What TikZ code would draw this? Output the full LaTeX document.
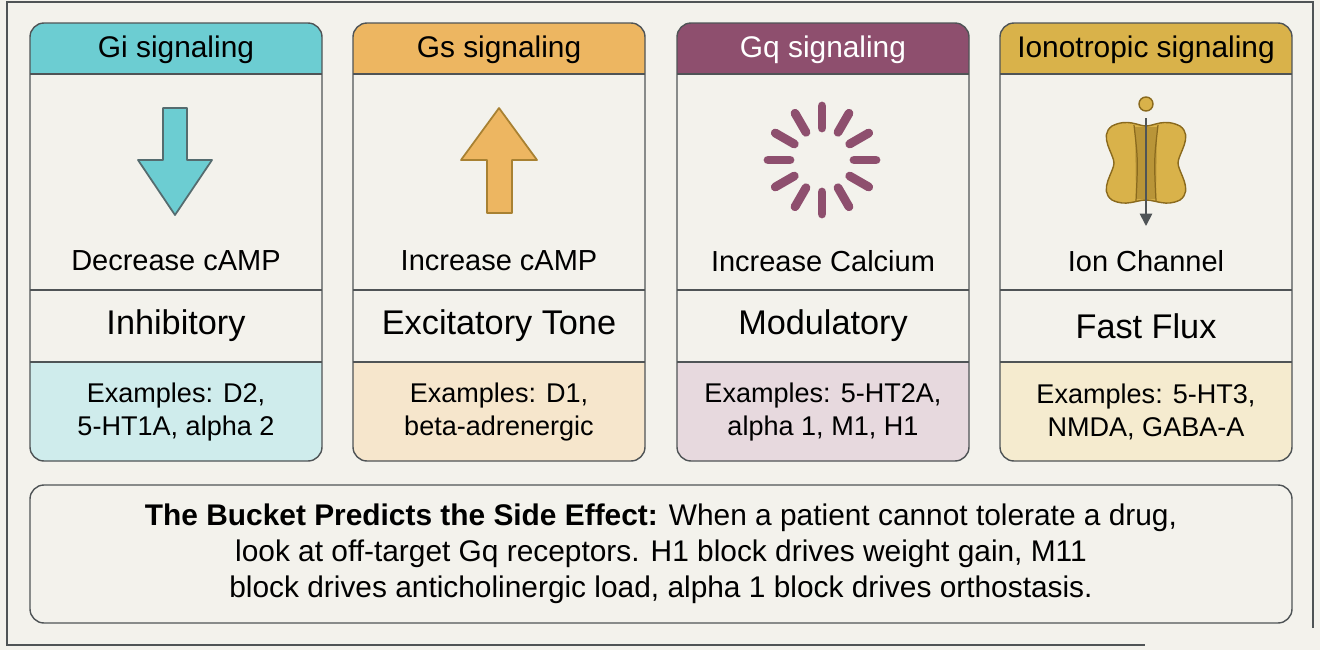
\documentclass[tikz,border=0pt]{standalone}
\usepackage{fontspec}
\setmainfont{Liberation Sans}
\usetikzlibrary{arrows.meta, positioning, calc}
\definecolor{bgpaper}{HTML}{F3F2EC}
\definecolor{edgegray}{HTML}{4F5456}
\definecolor{giteal}{HTML}{6CCDD2}
\definecolor{gilight}{HTML}{CFECEC}
\definecolor{gsorange}{HTML}{EDB661}
\definecolor{gslight}{HTML}{F6E6CC}
\definecolor{gqpurple}{HTML}{8E4F6E}
\definecolor{gqlight}{HTML}{E7D9DE}
\definecolor{iongold}{HTML}{D9B24A}
\definecolor{ionlight}{HTML}{F5EBCF}
\definecolor{ionedge}{HTML}{8A6A1E}

\begin{document}
\begin{tikzpicture}[x=0.02cm, y=-0.02cm,
    header/.style={font=\fontsize{17}{20}\selectfont, text=black},
    effect/.style={font=\fontsize{16.5}{19}\selectfont},
    tone/.style={font=\fontsize{19.5}{23}\selectfont},
    examples/.style={font=\fontsize{15.4}{18.5}\selectfont, align=center},
    outline/.style={draw=edgegray, line width=0.8pt}
]
    \useasboundingbox (0,0) rectangle (1320,650);
    \fill[bgpaper] (0,0) rectangle (1320,650);
    \draw[edgegray, line width=0.8pt] (1313,628) -- (1313,2) -- (7,2) -- (7,645) -- (1145,645);

    % four signaling columns
    \foreach \name/\xa/\hcol/\lcol in {gi/30/giteal/gilight, gs/353/gsorange/gslight,
                                      gq/677/gqpurple/gqlight, ion/1000/iongold/ionlight} {
        \pgfmathsetmacro{\xb}{\xa+292}
        \fill[\hcol, rounded corners=8] (\xa,23) rectangle (\xb,74);
        \fill[\hcol] (\xa,50) rectangle (\xb,74);
        \fill[\lcol, rounded corners=8] (\xa,362) rectangle (\xb,461);
        \fill[\lcol] (\xa,362) rectangle (\xb,400);
        \draw[outline, rounded corners=8] (\xa,23) rectangle (\xb,461);
        \draw[outline] (\xa,74) -- (\xb,74);
        \draw[outline] (\xa,290) -- (\xb,290);
        \draw[outline] (\xa,362) -- (\xb,362);
        \coordinate (\name) at ({(\xa+\xb)/2},0);
    }

    \node[header] (gihead) at ($(gi)+(0,50)$) {Gi signaling};
    \node[header] (gshead) at ($(gs)+(0,50)$) {Gs signaling};
    \node[header, text=white] (gqhead) at ($(gq)+(0,50)$) {Gq signaling};
    \node[header] (ionhead) at ($(ion)+(0,50)$) {Ionotropic signaling};

    \node[effect] (gieffect) at ($(gi)+(0,261)$) {Decrease cAMP};
    \node[effect] (gseffect) at ($(gs)+(0,261)$) {Increase cAMP};
    \node[effect] (gqeffect) at ($(gq)+(0,261)$) {Increase Calcium};
    \node[effect] (ioneffect) at ($(ion)+(0,261)$) {Ion Channel};

    \node[tone] (gitone) at ($(gi)+(0,326)$) {Inhibitory};
    \node[tone] (gstone) at ($(gs)+(0,326)$) {Excitatory Tone};
    \node[tone] (gqtone) at ($(gq)+(0,326)$) {Modulatory};
    \node[tone] (iontone) at ($(ion)+(0,326)$) {Fast Flux};

    \node[examples] (giex) at ($(gi)+(0,412)$) {Examples: D2,\\5-HT1A, alpha 2};
    \node[examples] (gsex) at ($(gs)+(0,412)$) {Examples: D1,\\beta-adrenergic};
    \node[examples] (gqex) at ($(gq)+(0,412)$) {Examples: 5-HT2A,\\alpha 1, M1, H1};
    \node[examples] (ionex) at ($(ion)+(0,412)$) {Examples: 5-HT3,\\NMDA, GABA-A};

    % icons
    \draw[edgegray!80!giteal, fill=giteal, line width=1pt, line join=round]
        (163,108) -- (187,108) -- (187,160) -- (212,160) -- (175,215) -- (138,160) -- (163,160) -- cycle;
    \draw[ionedge!70!gsorange, fill=gsorange, line width=1pt, line join=round]
        (487,213) -- (512,213) -- (512,160) -- (537,160) -- (499,108) -- (461,160) -- (487,160) -- cycle;
    \foreach \a in {0,30,...,330}
        \draw[gqpurple, line width=5pt, line cap=round] (822,160) ++(\a:32) -- ++(\a:22);
    \draw[ionedge, fill=iongold, line width=0.8pt]
        (1112,126) .. controls (1128,118) and (1138,126) .. (1146,126)
        .. controls (1154,126) and (1164,118) .. (1180,126)
        .. controls (1194,136) and (1178,154) .. (1178,163)
        .. controls (1178,172) and (1194,190) .. (1180,200)
        .. controls (1166,207) and (1156,200) .. (1146,200)
        .. controls (1136,200) and (1126,207) .. (1112,200)
        .. controls (1098,190) and (1114,172) .. (1114,163)
        .. controls (1114,154) and (1098,136) .. (1112,126) -- cycle;
    \fill[ionedge!40!iongold] (1135,127) -- (1157,127) -- (1156,199) -- (1136,199) -- cycle;
    \draw[ionedge, line width=0.7pt] (1134,125) .. controls (1138,160) .. (1136,201)
        (1158,125) .. controls (1154,160) .. (1156,201);
    \draw[ionedge, fill=iongold, line width=0.8pt] (1146,104) circle (7);
    \draw[edgegray, line width=1pt, -{Triangle[length=7pt, width=7pt]}] (1146,118) -- (1146,226);

    % side effect note
    \draw[outline, rounded corners=8] (30,485) rectangle (1292,623);
    \node[font=\fontsize{17}{20.5}\selectfont, align=center] (note) at (661,554)
        {\textbf{The Bucket Predicts the Side Effect:} When a patient cannot tolerate a drug,\\
         look at off-target Gq receptors. H1 block drives weight gain, M11\\
         block drives anticholinergic load, alpha 1 block drives orthostasis.};
\end{tikzpicture}
\end{document}
